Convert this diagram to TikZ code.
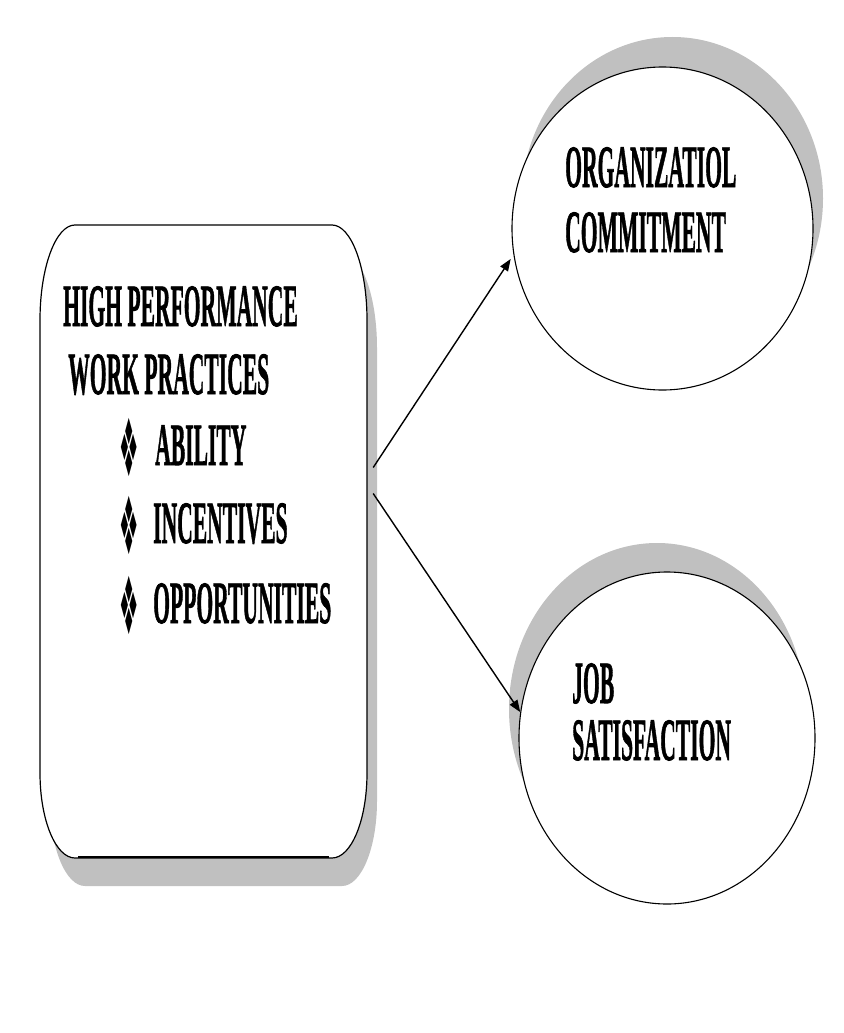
\documentclass[tikz,border=0pt]{standalone}
\usepackage{fontspec}
\setmainfont{Liberation Serif}
\newfontfamily\lblfont{Liberation Serif}[BoldFeatures={FakeBold=1.5}]
\newfontfamily\dingfont{DejaVu Sans}
\usetikzlibrary{shapes.geometric,arrows.meta,calc}
\definecolor{shadowgray}{RGB}{192,192,192}
\newcommand\sqz[1]{\scalebox{0.36}[1]{#1}}
\newcommand\sqb[1]{\scalebox{0.27}[1]{#1}}
\tikzset{
  lbl/.style={anchor=base west, inner sep=0pt, font=\fontsize{60}{60}\selectfont\lblfont\bfseries},
  bul/.style={anchor=center, inner sep=0pt, font=\fontsize{80}{80}\selectfont\dingfont},
  bubble/.style={ellipse, draw, line width=1.1pt, fill=white, inner sep=0pt},
  bubshade/.style={ellipse, fill=shadowgray, inner sep=0pt},
  link/.style={line width=1.4pt, -{Triangle[length=12pt,width=9pt]}},
  boxline/.style={draw, line width=1.2pt, fill=white},
}
\begin{document}
\begin{tikzpicture}[x=1pt,y=-1pt]
\useasboundingbox[fill=white] (0,0) rectangle (843,1033);
% box shadow
\fill[shadowgray, shift={(10,28)}] (75,225) -- (332,225)
  arc[start angle=-90, end angle=0, x radius=35, y radius=95] -- (367,773)
  arc[start angle=0, end angle=90, x radius=35, y radius=85] -- (75,858)
  arc[start angle=90, end angle=180, x radius=35, y radius=85] -- (40,320)
  arc[start angle=180, end angle=270, x radius=35, y radius=95] -- cycle;
% box
\path[boxline] (75,225) -- (332,225)
  arc[start angle=-90, end angle=0, x radius=35, y radius=95] -- (367,773)
  arc[start angle=0, end angle=90, x radius=35, y radius=85] -- (75,858)
  arc[start angle=90, end angle=180, x radius=35, y radius=85] -- (40,320)
  arc[start angle=180, end angle=270, x radius=35, y radius=95] -- cycle;
\draw[line width=2.2pt] (78,857) -- (329,857);
\node[minimum width=327pt, minimum height=633pt, inner sep=0pt] (hp) at (203.5,541.5) {};
% box text
\node[lbl] (t1) at (63,326) {\sqz{HIGH PERFORMANCE}};
\node[lbl] (t2) at (68,394) {\sqz{WORK PRACTICES}};
\node[bul] (b1) at (129,447) {\sqb{❖}};
\node[lbl] (t3) at (155,465) {\sqz{ABILITY}};
\node[bul] (b2) at (129,525) {\sqb{❖}};
\node[lbl] (t4) at (153,543) {\sqz{INCENTIVES}};
\node[bul] (b3) at (129,605) {\sqb{❖}};
\node[lbl] (t5) at (153,623) {\sqz{OPPORTUNITIES}};
% ellipses
\node[bubshade, minimum width=301pt, minimum height=323pt] (ocs) at (672.5,198.5) {};
\node[bubble, minimum width=301pt, minimum height=323pt] (oc) at (662.5,228.5) {};
\node[bubshade, minimum width=296pt, minimum height=332pt] (jss) at (657,709) {};
\node[bubble, minimum width=296pt, minimum height=332pt] (js) at (667,738) {};
\node[lbl] (o1) at (565,187) {\sqz{ORGANIZATIOL}};
\node[lbl] (o2) at (565,252) {\sqz{COMMITMENT}};
\node[lbl] (j1) at (572,703) {\sqz{JOB}};
\node[lbl] (j2) at (572,760) {\sqz{SATISFACTION}};
% arrows
\draw[link, shorten >=5pt] ($(hp.east)+(6,-74)$) -- (oc.190);
\draw[link] ($(hp.east)+(6,-48)$) -- (js.170);
\end{tikzpicture}
\end{document}
